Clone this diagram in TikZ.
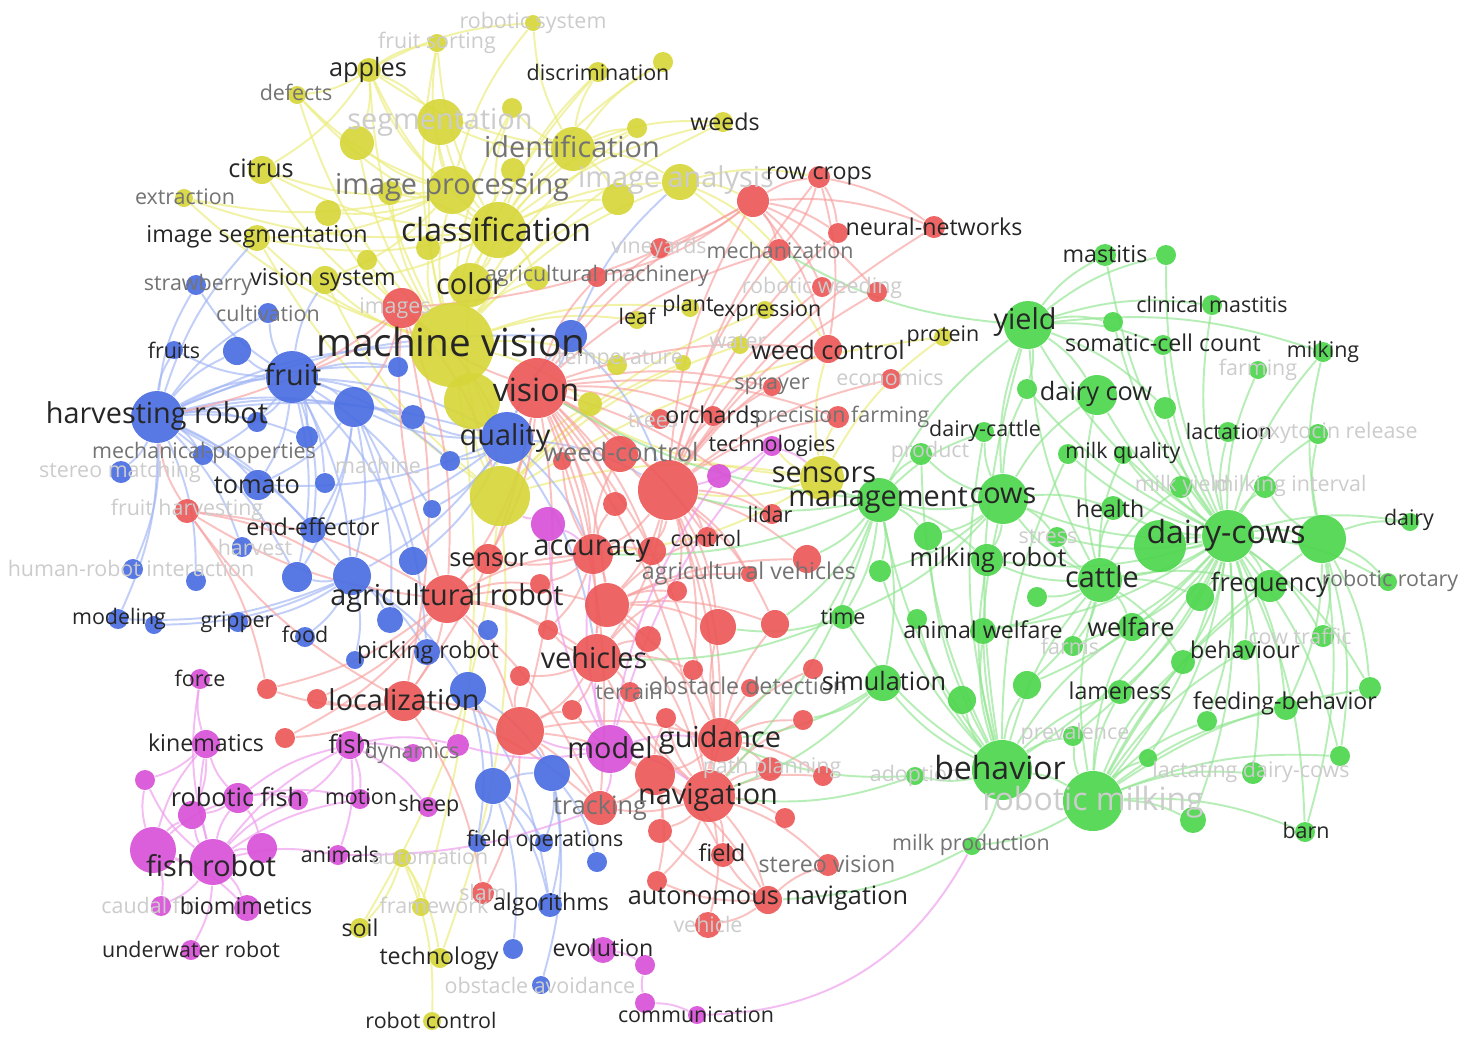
\documentclass[tikz,border=0pt]{standalone}
\usepackage{fontspec}
\setmainfont{Open Sans}
\usetikzlibrary{backgrounds}

% cluster colours
\definecolor{cy}{RGB}{214,214,58}
\definecolor{cb}{RGB}{74,110,226}
\definecolor{cr}{RGB}{236,88,88}
\definecolor{cg}{RGB}{78,214,78}
\definecolor{cm}{RGB}{216,82,216}
% link colours
\definecolor{ly}{RGB}{236,236,120}
\definecolor{lb}{RGB}{160,180,245}
\definecolor{lr}{RGB}{248,160,160}
\definecolor{lg}{RGB}{145,230,145}
\definecolor{lm}{RGB}{238,155,238}

\tikzset{
kw/.style={circle, inner sep=0pt, draw=none, fill opacity=0.92},
lbl/.style={inner sep=0pt},
t1/.style={font=\fontsize{6.1pt}{7pt}\selectfont},
t2/.style={font=\fontsize{6.6pt}{7.5pt}\selectfont},
t3/.style={font=\fontsize{7.2pt}{8pt}\selectfont},
t4/.style={font=\fontsize{8.2pt}{9pt}\selectfont},
t5/.style={font=\fontsize{9.1pt}{10pt}\selectfont},
t6/.style={font=\fontsize{11pt}{12pt}\selectfont},
dk/.style={text=black!85},
gy/.style={text=black!55},
lt/.style={text=black!20},
link/.style={line width=0.55pt, draw opacity=0.65},
ey/.style={link, draw=ly},
eb/.style={link, draw=lb},
er/.style={link, draw=lr},
eg/.style={link, draw=lg},
em/.style={link, draw=lm}
}

\begin{document}
\begin{tikzpicture}[x=0.1mm,y=-0.1mm]
\useasboundingbox (0,0) rectangle (1480,1061);

% keywords: name/x/y/radius/colour
\foreach \n/\x/\y/\r/\c in {
rs/533/23/8/cy, fs/437/43/9/cy, ap/369/70/12/cy, dis/598/72/10/cy, y1/663/62/10/cy,
wd/723/122/10/cy, df/297/95/9/cy, sg/440/122/23/cy, y2/512/108/10/cy, y3/357/143/17/cy,
id/573/149/22/cy, y4/637/128/10/cy, ci/262/170/14/cy, ip/452/190/24/cy, y5/513/170/12/cy,
ia/680/182/18/cy, y6/618/199/16/cy, y7/390/193/12/cy, y8/328/213/13/cy, cl/498/230/28/cy,
ex/184/198/9/cy, ims/257/238/13/cy, y9/428/248/12/cy, y10/367/260/10/cy, vs/325/280/14/cy,
co/470/285/22/cy, y11/537/278/12/cy, mv/452/345/42/cy, y12/472/401/28/cy, cv/500/496/30/cy,
lf/637/320/9/cy, pl/690/308/9/cy, xp/765/310/9/cy, wa/740/345/9/cy, pr/943/337/9/cy,
y13/683/363/8/cy, tp/617/365/10/cy, y14/590/404/12/cy, ss/822/478/22/cy, so/360/928/10/cy,
tg/440/958/10/cy, fw/421/907/9/cy, au/402/858/9/cy, rc/432/1021/9/cy,
sb/196/285/10/cb, cu/268/313/10/cb, fts/174/350/9/cb, b1/237/351/14/cb, fr/292/377/26/cb,
hr/157/417/26/cb, b2/354/407/20/cb, b3/413/417/12/cb, b4/398/367/10/cb, b5/307/437/11/cb,
b6/257/422/10/cb, b7/571/336/16/cb, mp/203/455/10/cb, sm/121/472/11/cb, to/258/485/15/cb,
b8/325/483/10/cb, b9/450/461/10/cb, b10/432/509/9/cb, qu/507/438/26/cb, ee/313/530/13/cb,
hv/242/547/10/cb, hri/133/569/10/cb, b11/196/581/10/cb, b12/297/577/15/cb, b13/352/576/19/cb,
b14/413/561/14/cb, b15/390/620/13/cb, b16/488/630/10/cb, b17/468/690/18/cb, mo/118/619/10/cb,
b18/154/625/9/cb, gr/238/622/10/cb, fo/305/637/10/cb, pk/427/652/13/cb, b19/355/660/9/cb,
b20/493/786/18/cb, b21/552/773/18/cb, fop/477/843/9/cb, fo2/544/843/9/cb, b22/597/862/10/cb,
al/550/905/12/cb, b23/513/949/10/cb, oa/541/985/9/cb,
rcr/819/177/11/cr, r1/753/201/16/cr, nn/934/227/11/cr, r2/838/233/10/cr, me/779/250/11/cr,
vy/660/248/10/cr, am/597/277/10/cr, rw/822/287/10/cr, r3/877/292/10/cr, img/402/308/20/cr,
wc/828/349/14/cr, sp/772/387/9/cr, ec/891/379/10/cr, tr/660/419/10/cr, oc/713/416/10/cr,
pf/838/417/11/cr, vi/537/388/30/cr, wdc/620/454/18/cr, r5/562/461/9/cr, r6/668/490/30/cr,
r7/615/504/12/cr, li/772/514/10/cr, ctl/707/537/10/cr, r8/652/551/14/cr, acc/593/554/20/cr,
se/488/559/15/cr, r9/540/584/10/cr, r10/807/559/14/cr, r11/677/591/10/cr, agv/749/574/8/cr,
ar/447/599/24/cr, r12/607/605/22/cr, r13/718/627/18/cr, r14/775/624/14/cr, r15/648/639/13/cr,
r16/548/630/10/cr, ve/597/658/24/cr, r17/520/676/10/cr, r18/693/670/10/cr, te/630/692/10/cr,
od/750/688/9/cr, r19/813/669/10/cr, lo/404/701/20/cr, r20/317/699/10/cr, r21/267/689/10/cr,
r22/572/710/10/cr, r23/666/718/10/cr, r24/520/731/24/cr, r25/803/720/10/cr, r26/285/738/10/cr,
gd/720/740/22/cr, pp/770/769/12/cr, r27/823/776/10/cr, r28/655/775/20/cr, nv/709/796/26/cr,
tk/600/808/17/cr, r29/660/831/12/cr, r30/785/818/10/cr, fi/723/855/12/cr, sv/828/865/11/cr,
r31/657/881/10/cr, sl/483/893/11/cr, an/768/900/14/cr, vh/708/925/13/cr, fh2/187/511/12/cr,
fc/200/679/10/cm, ki/206/744/14/cm, fh/350/745/14/cm, dy/413/753/9/cm, m1/458/745/11/cm,
m2/145/780/10/cm, rf/238/798/15/cm, m3/298/800/10/cm, mt/360/799/10/cm, sh/428/807/10/cm,
m4/192/815/14/cm, m5/153/850/23/cm, frb/213/862/23/cm, m6/262/848/15/cm, anm/338/855/10/cm,
cf/161/906/10/cm, bm/247/908/13/cm, uw/191/950/10/cm, ev/603/950/13/cm, m7/645/965/10/cm,
m8/645/1003/10/cm, cm/697/1015/9/cm, mdl/610/749/24/cm, tc/772/446/10/cm, m9/719/476/12/cm,
m10/548/524/17/cm,
ma/1105/255/11/cg, g1/1166/255/10/cg, cma/1212/305/10/cg, g2/1113/322/10/cg, yl/1028/325/24/cg,
sc/1163/345/10/cg, mk/1323/352/10/cg, fa/1258/370/9/cg, dcw/1097/395/20/cg, g3/1027/389/10/cg,
g4/1165/408/11/cg, dct/984/432/10/cg, la/1228/432/10/cg, ox/1318/434/10/cg, pd/921/454/11/cg,
g20/1068/454/10/cg, mq/1123/455/9/cg, my/1181/487/11/cg, mi/1265/487/11/cg, mg/879/500/22/cg,
cw/1003/499/25/cg, he/1113/508/12/cg, dai/1410/522/9/cg, g5/1160/546/26/cg, dc/1228/536/26/cg,
g6/1322/539/24/cg, g7/928/536/14/cg, st/1057/537/10/cg, mr/987/560/16/cg, g8/880/571/11/cg,
ct/1100/580/22/cg, fq/1270/586/16/cg, g9/1200/597/14/cg, rr/1388/582/9/cg, tm/843/617/12/cg,
g10/917/619/10/cg, aw/983/631/13/cg, g11/1037/597/10/cg, wf/1132/627/14/cg, frm/1073/646/10/cg,
ctf/1323/636/11/cg, bv/1245/650/10/cg, g12/1183/662/12/cg, g13/1027/685/14/cg, g14/962/700/14/cg,
sim/883/683/18/cg, lm/1120/692/12/cg, fb/1286/708/12/cg, g15/1207/721/10/cg, g16/1370/688/11/cg,
pv/1073/736/10/cg, g17/1148/758/9/cg, g18/1340/756/10/cg, ldc/1253/773/11/cg, bh/1002/770/30/cg,
rm/1093/801/30/cg, g19/1193/820/13/cg, ba/1305/832/10/cg, mpd/972/846/9/cg, ad/915/776/9/cg}
\node[kw, fill=\c, minimum size=\r*0.2mm] (\n) at (\x,\y) {};

\begin{pgfonlayer}{background}
\fill[white] (0,0) rectangle (1480,1061);

% yellow links
\foreach \h/\ls in {
mv/{ap,ci,ims,vs,co,cl,ip,sg,id,df,ex,fs,y3,y7,y8,y9,y10,y11,y5,y6,ia,dis,wd,y2,y4,lf,pl,tp,y12,cv,y14,fw},
cl/{ap,ci,ip,sg,id,co,df,y2,y4,dis,wd,y1,ia,y6,ims,vs,ex,fs,y11},
ip/{ap,ci,sg,df,ims,vs,fs,rs,y3,y7,y8,ex},
id/{dis,y1,wd,y2,y4,ia,sg,ap,rs,y6},
cv/{co,vs,ims,y12,y14,ss,wa,xp,pr,so,tg,y13},
ap/{df,fs,rs,sg,y3,ci},
ss/{r6,vi,acc,pf,wc,tc,pr},
ia/{r1,rcr,wc,me},
au/{tg,rc,so,fw}}
\foreach \b in \ls \draw[ey] (\h) to[bend left=12] (\b);

% blue links
\foreach \h/\ls in {
hr/{fr,fts,b1,sb,cu,mp,sm,to,b5,b6,b2,b3,b4,ee,hv,b12,b13,qu,b7,hri,mo,b11,ims,mv},
fr/{fts,b1,sb,cu,mp,to,b5,b6,b2,b3,b4,b8,ee,b12,b13,b14,qu,b9,b10,vs},
qu/{b2,b3,b9,b10,b14,b7,b13,to,ee,r6,acc,vi,ve},
b2/{to,ee,b13,b12,pk,b15},
b13/{pk,b15,b12,gr,fo,mo,b19,b17,b18},
b7/{vi,r6,ia},
b17/{b20,b21,fop,al},
b20/{fop,fo2,al,b23,b21},
b21/{fo2,b22,al,oa}}
\foreach \b in \ls \draw[eb] (\h) to[bend left=12] (\b);

% red links
\foreach \h/\ls in {
vi/{img,am,vy,me,r1,wc,r6,wdc,acc,se,ar,ve,nv,gd,tk,lo,oc,tr,sp,pf,ctl,r7,r8,li,r12,r24},
r6/{r1,rcr,nn,r2,me,rw,r3,wc,ec,sp,oc,pf,wdc,ctl,li,r10,acc,r8,r12,r13,r14,ve,gd,nv,r11,r18,agv},
r1/{rcr,r2,me,vy,am,rw,r3,wc,nn,img},
ar/{img,se,lo,r20,r21,r26,r24,r9,r16,ve,acc,r12,fh2,tk},
nv/{gd,ve,tk,r28,r29,r30,fi,sv,an,vh,pp,r27,r31,r25,r23,od,te},
gd/{r28,pp,r27,r25,r23,r14,r13,r19},
ve/{r12,r15,r17,r22,r24,te,r11,r16,r18},
acc/{r12,r7,r8,r9,se,wdc,r16,r5},
lo/{r20,r21,r26,r24,sl,tk,fh2},
an/{fi,sv,vh,r29,r31},
r24/{r22,r17,tk,r28,gd,sl,b20,b21},
r12/{r13,r14,r15,ctl,r10,agv,r11,gd,nv},
r28/{tk,r29,fi,an,r31,r22,r23},
img/{hr,fr,b2,mv,cv,qu,lo,ar},
fh2/{hr,b13,ar,r21},
rcr/{nn,r2,me,wc}}
\foreach \b in \ls \draw[er] (\h) to[bend left=12] (\b);

% green links
\foreach \h/\ls in {
dc/{g5,g6,yl,ma,g1,cma,g2,sc,mk,fa,dcw,g3,g4,la,ox,mq,my,mi,cw,he,dai,st,mr,ct,fq,g9,rr,wf,bv,g12,lm,fb,g15,g16,pv,g17,g18,ldc,bh,rm,g19,ba,ctf,aw,frm,g13,g20},
bh/{mg,cw,tm,aw,sim,g14,g13,mr,g7,g8,g10,ad,mpd,rm,ct,wf,lm,pv,dct,yl,pd,g20},
rm/{ct,wf,lm,fb,g15,g17,g18,ldc,g19,ba,g6,g16,fq,bv,g12,mpd,pv},
ct/{cw,yl,dcw,he,mq,my,st,mr,g11,aw,wf,frm,g12,g9,fq,g13},
cw/{yl,dcw,dct,pd,mg,g7,mr,g8,tm,st,he,g3},
yl/{ma,g1,cma,g2,sc,dcw,g3,g4,mk,me},
g6/{dai,rr,ctf,g16,fb,ox,mi,mk,g18,ba},
mg/{ss,g7,g8,dct,pd,mr,yl,tm,vi,r6,acc,gd,nv,r14,sim,r10},
sim/{nv,gd,r25},
tm/{ve,r13},
ad/{nv,gd},
mpd/{an}}
\foreach \b in \ls \draw[eg] (\h) to[bend left=12] (\b);

% magenta links
\foreach \h/\ls in {
frb/{m5,m6,rf,m4,ki,m2,cf,bm,uw,fh,mt,anm,m3,fc},
m5/{rf,m4,m2,ki,cf,bm},
rf/{ki,m3,m4,m6,fh,mt},
fh/{dy,m1,mt,sh,anm,m3},
ki/{fc,m2,m4},
mdl/{m10,m9,tc,m1,ve,gd,nv,tk,acc,r24},
tc/{r6,ss},
m10/{cv,acc},
ev/{m7},
m8/{m7,cm}}
\foreach \b in \ls \draw[em] (\h) to[bend left=12] (\b);
\draw[em] (cm) to[bend right=30] (mpd);
\draw[em] (anm) to[bend right=10] (tk);
\end{pgfonlayer}

% labels: name/x/y/size/tone/text
\foreach \n/\x/\y/\f/\k/\t in {
rs/533/23/t1/lt/robotic system, fs/437/43/t1/lt/fruit sorting, ap/368/70/t3/dk/apples,
dis/598/72/t1/dk/discrimination, wd/725/122/t2/dk/weeds, df/296/92/t1/gy/defects,
sg/440/122/t4/lt/segmentation, id/572/147/t4/gy/identification, ci/261/168/t3/dk/citrus,
ip/452/187/t4/gy/image processing, ia/676/180/t4/lt/image analysis, cl/496/229/t5/dk/classification,
ex/185/197/t1/gy/extraction, ims/257/237/t2/dk/image segmentation, vs/323/280/t2/dk/vision system,
co/470/284/t4/dk/color, am/597/276/t1/gy/agricultural machinery, vy/659/248/t1/lt/vineyards,
me/780/250/t1/gy/mechanization, rcr/819/176/t2/dk/row crops, nn/934/227/t2/dk/neural-networks,
rw/822/288/t1/lt/robotic weeding, img/395/308/t1/lt/images, mv/451/342/t6/dk/machine vision,
lf/637/316/t1/dk/leaf, pl/688/306/t1/dk/plant, xp/767/311/t1/dk/expression,
wa/738/342/t1/lt/water, wc/828/350/t3/dk/weed control, pr/943/336/t1/dk/protein,
tp/620/360/t1/lt/temperature, sp/772/386/t1/gy/sprayer, ec/890/378/t1/lt/economics,
vi/536/390/t5/dk/vision, tr/653/421/t1/lt/trees, oc/713/415/t2/dk/orchards,
pf/842/417/t1/gy/precision farming, qu/505/438/t4/dk/quality, wdc/621/452/t3/gy/weed-control,
tc/772/446/t1/dk/technologies, ss/824/475/t4/dk/sensors, mg/878/500/t4/dk/management,
li/770/514/t1/dk/lidar, ctl/706/538/t1/dk/control, acc/592/551/t4/dk/accuracy,
se/489/560/t3/dk/sensor, agv/749/573/t2/gy/agricultural vehicles, ar/447/598/t4/dk/agricultural robot,
ve/594/658/t4/dk/vehicles, te/629/692/t1/gy/terrain, od/748/686/t2/gy/obstacle detection,
sim/884/681/t3/dk/simulation, lo/404/700/t4/dk/localization, mdl/610/748/t4/dk/model,
gd/720/740/t4/dk/guidance, pp/772/768/t1/lt/path planning, nv/708/797/t4/dk/navigation,
tk/600/808/t3/gy/tracking, fi/722/853/t2/dk/field, sv/827/864/t2/gy/stereo vision,
sl/483/892/t1/lt/slam, an/768/898/t3/dk/autonomous navigation, vh/708/924/t1/lt/vehicle,
ad/915/776/t1/lt/adoption,
sb/198/285/t1/gy/strawberry, cu/268/313/t1/gy/cultivation, fts/174/350/t1/dk/fruits,
fr/293/375/t4/dk/fruit, hr/157/416/t4/dk/harvesting robot, mp/204/453/t1/gy/mechanical-properties,
sm/120/472/t1/lt/stereo matching, to/257/485/t3/dk/tomato, mc/378/465/t1/lt/machine,
ee/313/527/t2/dk/end-effector, fh2/187/510/t1/lt/fruit harvesting, hv/255/547/t1/lt/harvest,
hri/131/568/t1/lt/human-robot interaction, mo/119/619/t1/dk/modeling, gr/237/622/t1/dk/gripper,
fo/305/634/t1/dk/food, pk/428/652/t2/dk/picking robot, fop/545/841/t1/dk/field operations,
al/551/904/t2/dk/algorithms, oa/540/985/t1/lt/obstacle avoidance,
fc/200/678/t1/dk/force, ki/206/743/t2/dk/kinematics, fh/350/744/t3/dk/fish,
dy/412/753/t1/gy/dynamics, rf/237/797/t3/dk/robotic fish, mt/361/797/t1/dk/motion,
sh/429/806/t1/dk/sheep, frb/211/866/t4/dk/fish robot, anm/340/854/t1/dk/animals,
cf/150/905/t1/lt/caudal fin, bm/246/906/t2/dk/biomimetics, uw/191/949/t1/dk/underwater robot,
ev/603/948/t2/dk/evolution, cm/696/1015/t1/dk/communication,
so/360/928/t2/dk/soil, fw/434/905/t1/lt/framework, au/430/857/t1/lt/automation,
tg/439/958/t2/dk/technology, rc/431/1020/t1/dk/robot control,
ma/1105/254/t2/dk/mastitis, cma/1212/304/t1/dk/clinical mastitis, yl/1025/322/t4/dk/yield,
sc/1163/343/t2/dk/somatic-cell count, mk/1323/352/t1/dk/milking, fa/1258/370/t1/lt/farming,
dcw/1096/394/t3/dk/dairy cow, dct/985/431/t1/dk/dairy-cattle, la/1229/431/t1/dk/lactation,
ox/1337/433/t1/lt/oxytocin release, pd/930/452/t1/lt/product, mq/1123/453/t1/dk/milk quality,
my/1182/486/t1/lt/milk yield, mi/1290/486/t1/lt/milking interval, cw/1003/496/t4/dk/cows,
he/1110/509/t2/dk/health, dai/1409/520/t1/dk/dairy, dc/1226/535/t5/dk/dairy-cows,
st/1048/537/t1/lt/stress, mr/988/560/t3/dk/milking robot, ct/1102/577/t4/dk/cattle,
fq/1270/585/t3/dk/frequency, rr/1390/581/t1/gy/robotic rotary, tm/843/617/t1/dk/time,
aw/983/630/t2/dk/animal welfare, wf/1131/627/t3/dk/welfare, frm/1070/646/t1/lt/farms,
ctf/1300/636/t1/lt/cow traffic, bv/1245/650/t2/dk/behaviour, lm/1120/691/t2/dk/lameness,
fb/1285/703/t2/dk/feeding-behavior, pv/1075/734/t1/lt/prevalence, ldc/1251/772/t1/lt/lactating dairy-cows,
bh/1000/767/t5/dk/behavior, rm/1093/802/t5/lt/robotic milking, ba/1306/830/t1/dk/barn,
mpd/971/845/t1/gy/milk production}
\node[lbl, \f, \k] (\n-l) at (\x,\y) {\t};

\end{tikzpicture}
\end{document}
